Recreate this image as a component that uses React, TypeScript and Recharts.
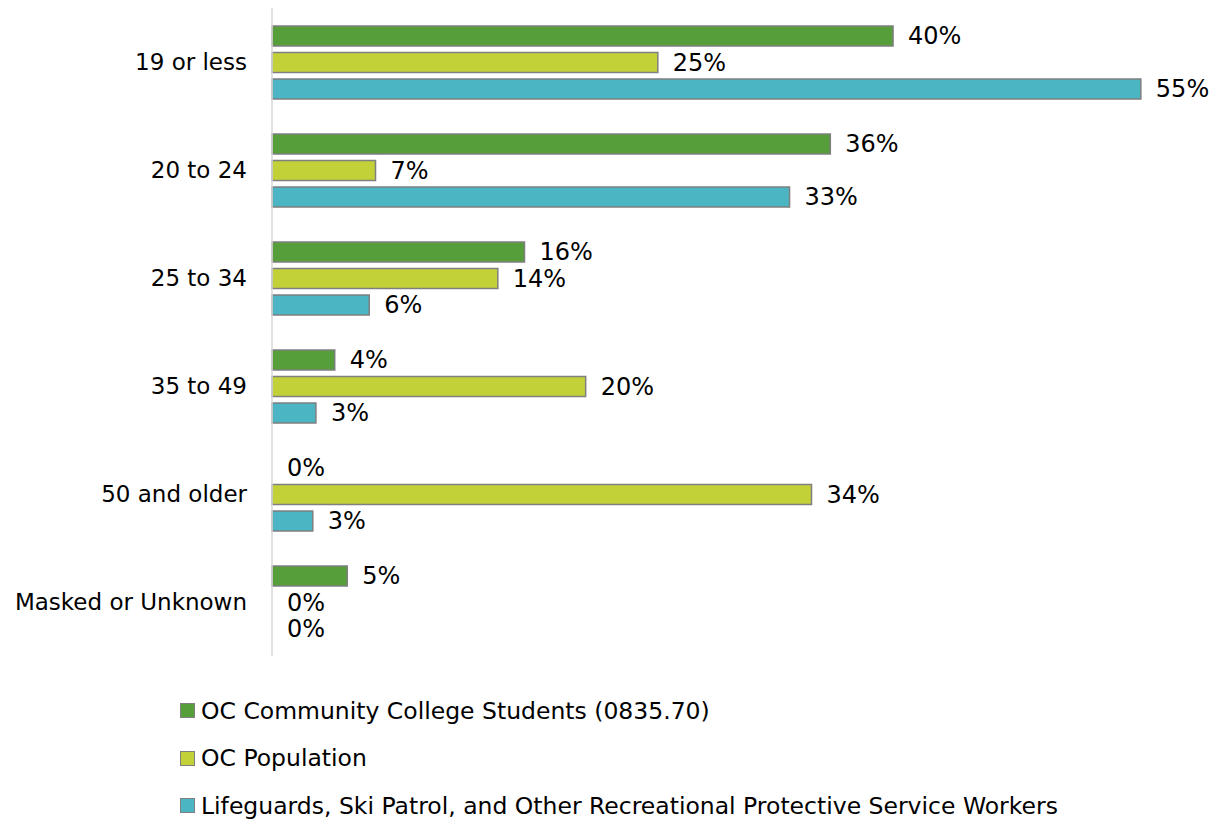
import React from 'react'
import {
  Bar,
  BarChart,
  Legend,
  Rectangle,
  XAxis,
  YAxis,
} from 'recharts'

const categories = [
  '19 or less',
  '20 to 24',
  '25 to 34',
  '35 to 49',
  '50 and older',
  'Masked or Unknown',
]

const students = [39.6, 35.6, 16.1, 4.0, 0, 4.8]
const population = [24.6, 6.6, 14.4, 20.0, 34.4, 0]
const lifeguards = [55.4, 33.0, 6.2, 2.8, 2.6, 0]

const seriesNames = [
  'OC Community College Students (0835.70)',
  'OC Population',
  'Lifeguards, Ski Patrol, and Other Recreational Protective Service Workers',
]

const colors = ['#559E3A', '#C3D139', '#4BB5C4']

const FONT = '"DejaVu Sans", sans-serif'
const BAR_STROKE = '#7F7F7F'

const data = categories.map((name, i) => ({
  name,
  students: students[i],
  population: population[i],
  lifeguards: lifeguards[i],
}))

// bar + its value label, so that 0% bars still get a label
const barWithLabel = (props: any) => {
  const { x, y, width, height, value } = props
  const v = Array.isArray(value) ? value[1] - value[0] : Number(value)
  const w = Number(width) || 0
  return (
    <g>
      {w > 0 && (
        <Rectangle
          x={x}
          y={y}
          width={w}
          height={height}
          fill={props.fill}
          stroke={BAR_STROKE}
          strokeWidth={1.5}
        />
      )}
      <text
        x={Number(x) + w + 15}
        y={Number(y) + Number(height) / 2}
        dominantBaseline='central'
        fontSize={24}
        fontFamily={FONT}
        fill='#000'
      >
        {`${Math.round(v)}%`}
      </text>
    </g>
  )
}

const renderLegend = () => (
  <div style={{ fontFamily: FONT, fontSize: 23.5, color: '#000' }}>
    {seriesNames.map((name, i) => (
      <div
        key={name}
        style={{ display: 'flex', alignItems: 'center', height: 47.5 }}
      >
        <span
          style={{
            display: 'inline-block',
            width: 13,
            height: 13,
            background: colors[i],
            border: `1.5px solid ${BAR_STROKE}`,
            marginRight: 6,
          }}
        />
        <span style={{ whiteSpace: 'nowrap' }}>{name}</span>
      </div>
    ))}
  </div>
)

export default function App() {
  return (
    <div style={{ position: 'absolute', left: 0, top: 0 }}>
      <BarChart
        width={1220}
        height={820}
        data={data}
        layout='vertical'
        margin={{ top: 8, right: 7, bottom: 164, left: 0 }}
        barSize={20}
        barGap={6.5}
      >
        <XAxis type='number' domain={[0, 60]} hide />
        <YAxis
          type='category'
          dataKey='name'
          width={272}
          axisLine={{ stroke: '#D9D9D9', strokeWidth: 1.5 }}
          tickLine={false}
          tickSize={0}
          tickMargin={25}
          tick={{ fontSize: 23, fontFamily: FONT, fill: '#000' }}
        />
        <Bar
          dataKey='students'
          name={seriesNames[0]}
          fill={colors[0]}
          shape={barWithLabel}
          isAnimationActive={false}
        />
        <Bar
          dataKey='population'
          name={seriesNames[1]}
          fill={colors[1]}
          shape={barWithLabel}
          isAnimationActive={false}
        />
        <Bar
          dataKey='lifeguards'
          name={seriesNames[2]}
          fill={colors[2]}
          shape={barWithLabel}
          isAnimationActive={false}
        />
        <Legend
          layout='vertical'
          align='center'
          verticalAlign='middle'
          content={renderLegend}
          wrapperStyle={{ left: 180, top: 687, width: 1030, height: 143 }}
        />
      </BarChart>
    </div>
  )
}
